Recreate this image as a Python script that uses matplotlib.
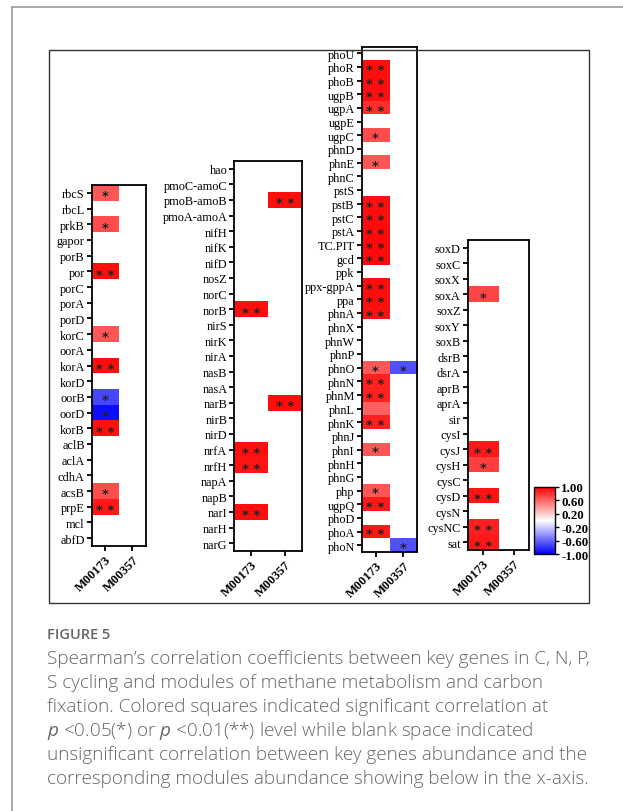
import numpy as np
import matplotlib
matplotlib.use("Agg")
import matplotlib.pyplot as plt
from matplotlib.colors import LinearSegmentedColormap
from matplotlib.cm import ScalarMappable
from matplotlib.colors import Normalize
from matplotlib.patches import Rectangle
from matplotlib.lines import Line2D

nan = np.nan
modules = ["M00173", "M00357"]

# C cycling genes
c_genes = ["rbcS", "rbcL", "prkB", "gapor", "porB", "por", "porC", "porA", "porD", "korC",
           "oorA", "korA", "korD", "oorB", "oorD", "korB", "aclB", "aclA", "cdhA", "acsB",
           "prpE", "mcl", "abfD"]
c_m00173 = [0.66, nan, 0.70, nan, nan, 0.95, nan, nan, nan, 0.66,
            nan, 0.95, nan, -0.72, -0.95, 0.93, nan, nan, nan, 0.70,
            0.90, nan, nan]
c_sig173 = ["*", "", "*", "", "", "**", "", "", "", "*",
            "", "**", "", "*", "*", "**", "", "", "", "*",
            "**", "", ""]
c_m00357 = [nan] * 23
c_sig357 = [""] * 23

# N cycling genes
n_genes = ["hao", "pmoC-amoC", "pmoB-amoB", "pmoA-amoA", "nifH", "nifK", "nifD", "nosZ",
           "norC", "norB", "nirS", "nirK", "nirA", "nasB", "nasA", "narB", "nirB", "nirD",
           "nrfA", "nrfH", "napA", "napB", "narI", "narH", "narG"]
n_m00173 = [nan, nan, nan, nan, nan, nan, nan, nan, nan, 0.94, nan, nan, nan, nan, nan,
            nan, nan, nan, 0.94, 0.92, nan, nan, 0.94, nan, nan]
n_sig173 = ["", "", "", "", "", "", "", "", "", "**", "", "", "", "", "",
            "", "", "", "**", "**", "", "", "**", "", ""]
n_m00357 = [nan, nan, 0.95, nan, nan, nan, nan, nan, nan, nan, nan, nan, nan, nan, nan,
            0.95, nan, nan, nan, nan, nan, nan, nan, nan, nan]
n_sig357 = ["", "", "**", "", "", "", "", "", "", "", "", "", "", "", "",
            "**", "", "", "", "", "", "", "", "", ""]

# P cycling genes
p_genes = ["phoU", "phoR", "phoB", "ugpB", "ugpA", "ugpE", "ugpC", "phnD", "phnE", "phnC",
           "pstS", "pstB", "pstC", "pstA", "TC.PIT", "gcd", "ppk", "ppx-gppA", "ppa", "phnA",
           "phnX", "phnW", "phnP", "phnO", "phnN", "phnM", "phnL", "phnK", "phnJ", "phnI",
           "phnH", "phnG", "php", "ugpQ", "phoD", "phoA", "phoN"]
p_m00173 = [nan, 0.95, 0.95, 0.93, 0.82, nan, 0.70, nan, 0.66, nan,
            nan, 0.93, 0.95, 0.96, 0.96, 0.96, nan, 0.95, 0.95, 0.93,
            nan, nan, nan, 0.65, 0.87, 0.87, 0.62, 0.87, nan, 0.66,
            nan, nan, 0.66, 0.90, nan, 0.90, nan]
p_sig173 = ["", "**", "**", "**", "**", "", "*", "", "*", "",
            "", "**", "**", "**", "**", "**", "", "**", "**", "**",
            "", "", "", "*", "**", "**", "", "**", "", "*",
            "", "", "*", "**", "", "**", ""]
p_m00357 = [nan] * 37
p_m00357[23] = -0.68
p_m00357[36] = -0.68
p_sig357 = [""] * 37
p_sig357[23] = "*"
p_sig357[36] = "*"

# S cycling genes
s_genes = ["soxD", "soxC", "soxX", "soxA", "soxZ", "soxY", "soxB", "dsrB", "dsrA", "aprB",
           "aprA", "sir", "cysI", "cysJ", "cysH", "cysC", "cysD", "cysN", "cysNC", "sat"]
s_m00173 = [nan, nan, nan, 0.72, nan, nan, nan, nan, nan, nan,
            nan, nan, nan, 0.90, 0.75, nan, 0.92, nan, 0.86, 0.90]
s_sig173 = ["", "", "", "*", "", "", "", "", "", "",
            "", "", "", "**", "*", "", "**", "", "**", "**"]
s_m00357 = [nan] * 20
s_sig357 = [""] * 20

cbar_ticks = [1.0, 0.6, 0.2, -0.2, -0.6, -1.0]

W, H = 623, 812
plt.rcParams['axes.unicode_minus'] = False
plt.rcParams['mathtext.fontset'] = 'custom'
plt.rcParams['mathtext.it'] = 'Open Sans:italic'
plt.rcParams['mathtext.rm'] = 'Open Sans'

cmap = LinearSegmentedColormap.from_list("bwr2", ["#0000ff", "#ffffff", "#ff0000"])
serif = "Liberation Serif"


def px(l, t, r, b):
    return [l / W, 1 - b / H, (r - l) / W, (b - t) / H]


fig = plt.figure(figsize=(W / 100, H / 100), dpi=100)

# outer card + inner frame
fig.add_artist(Line2D([12 / W, 12 / W], [0, 1 - 8 / H], color="#9a9a9a", lw=1.2))
fig.add_artist(Line2D([12 / W, 1], [1 - 8 / H, 1 - 8 / H], color="#9a9a9a", lw=1.2))
fig.add_artist(Rectangle((49 / W, 1 - 604 / H), 540 / W, 553 / H, fill=False,
                         ec="#333333", lw=1.0))

panels = [
    (c_genes, c_m00173, c_m00357, c_sig173, c_sig357, (91.7, 186, 146, 547)),
    (n_genes, n_m00173, n_m00357, n_sig173, n_sig357, (234.3, 162, 301.7, 552)),
    (p_genes, p_m00173, p_m00357, p_sig173, p_sig357, (361.7, 47.5, 417.3, 553)),
    (s_genes, s_m00173, s_m00357, s_sig173, s_sig357, (467.7, 241, 529, 551)),
]

for genes, v1, v2, s1, s2, box in panels:
    ax = fig.add_axes(px(*box))
    mat = np.array([v1, v2], dtype=float).T
    ax.imshow(np.ma.masked_invalid(mat), cmap=cmap, vmin=-1, vmax=1, aspect="auto",
              interpolation="nearest")
    for i in range(len(genes)):
        for j, sig in enumerate([s1[i], s2[i]]):
            if sig:
                ax.text(j, i + 0.18, sig.replace("**", "* *"), ha="center", va="center",
                        fontsize=9.5, fontweight="bold", color="#222222",
                        family="DejaVu Sans")
    ax.set_yticks(range(len(genes)))
    ax.set_yticklabels(genes, family=serif, fontsize=8.8)
    ax.set_xticks([0, 1])
    ax.set_xticklabels(modules, family=serif, fontsize=9.3, fontweight="bold",
                       rotation=45, ha="right", rotation_mode="anchor")
    ax.tick_params(direction="out", length=3.5, width=1.3, pad=1.5)
    for sp in ax.spines.values():
        sp.set_linewidth(1.3)

cax = fig.add_axes(px(534, 488, 555, 555))
cb = fig.colorbar(ScalarMappable(norm=Normalize(-1, 1), cmap=cmap), cax=cax,
                  ticks=cbar_ticks, format="%.2f")
cb.outline.set_linewidth(1.0)
cax.tick_params(length=3, width=1, pad=1.5)
for t in cax.get_yticklabels():
    t.set_family(serif)
    t.set_fontsize(9.3)
    t.set_fontweight("bold")

# caption
gray = "#666666"
fig.text(47 / W, 1 - 635 / H, "FIGURE 5", family="Open Sans", fontsize=10.5,
         fontweight="semibold", color=gray, va="center")
caption = [
    "Spearman\u2019s correlation coefficients between key genes in C, N, P,",
    "S cycling and modules of methane metabolism and carbon",
    "fixation. Colored squares indicated significant correlation at",
    "$p$ <0.05(*) or $p$ <0.01(**) level while blank space indicated",
    "unsignificant correlation between key genes abundance and the",
    "corresponding modules abundance showing below in the x-axis.",
]
ys = [659, 683, 707, 731, 755, 779]
for line, y in zip(caption, ys):
    fig.text(47 / W, 1 - y / H, line, family="Open Sans", fontsize=13.6,
             fontweight="light", color=gray, va="center")

fig.savefig("out.png", dpi=100)
